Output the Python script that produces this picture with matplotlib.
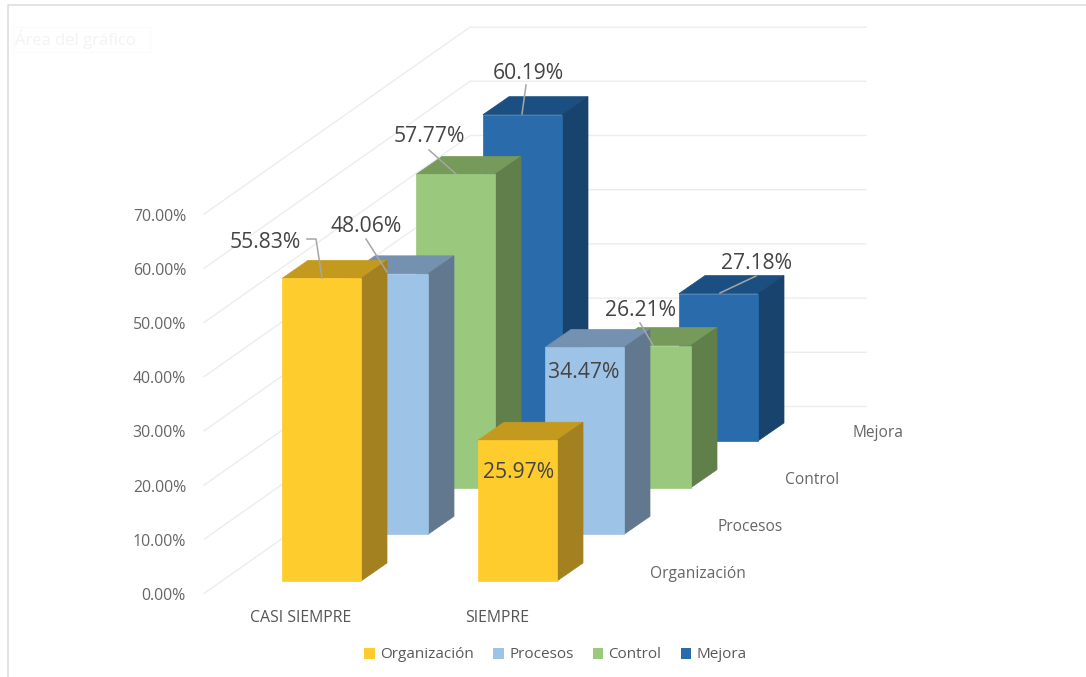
"""Oblique 3D-looking column chart, Organización / Procesos / Control / Mejora."""

import matplotlib
matplotlib.use("Agg")
import matplotlib.pyplot as plt
from matplotlib.patches import Patch, Polygon, Rectangle

plt.rcParams["font.family"] = ["Open Sans", "DejaVu Sans"]

# data
categories = ["CASI SIEMPRE", "SIEMPRE"]
series_names = ["Organización", "Procesos", "Control", "Mejora"]
organizacion = [55.83, 25.97]
procesos = [48.06, 34.47]
control = [57.77, 26.21]
mejora = [60.19, 27.18]
y_ticks = [0, 10, 20, 30, 40, 50, 60, 70]

series_values = [organizacion, procesos, control, mejora]
front_colors = ["#FFCC2E", "#9DC3E6", "#9AC97D", "#2A6CAB"]
top_colors = ["#C49A1E", "#7591B0", "#769A5A", "#1C4F81"]
side_colors = ["#A38120", "#62788F", "#607F4B", "#17436C"]

# oblique projection, all in figure pixels
FLOOR_X, FLOOR_Y = 204, 593.5   # front-left corner of the floor
DEPTH_DX, DEPTH_DY = 266, -187  # full depth of the box
BOX_RIGHT = 866
PX_PER_PCT = 5.42
BAR_W = 79
BAR_DX, BAR_DY = 26, -18      # depth of one bar
BAR_X0, BAR_Y0 = 282, 581     # first bar, front-left corner at base
CAT_STEP = 196
SERIES_DX, SERIES_DY = 67, -46.7

GRID = "#EDEDED"
TICK = "#666666"
LABEL = "#444444"
LEADER = "#A6A6A6"
TEXT_DY = 2.5  # Open Sans sits a little high with va="center"


def y_at(value):
    return FLOOR_Y - value * PX_PER_PCT


fig = plt.figure(figsize=(10.86, 6.77), dpi=100)
ax = fig.add_axes([0, 0, 1, 1])
ax.set_xlim(0, 1086)
ax.set_ylim(677, 0)
ax.axis("off")

# chart frame and the faint tooltip left over in the screenshot
ax.plot([8, 8, 1086], [677, 5, 5], color="#DEDEDE", lw=1.2)
ax.add_patch(Rectangle((14, 27), 136, 25, fc="white", ec="#FBFBFB", lw=1))
ax.text(15, 39, "Área del gráfico", fontsize=12, color="#F3F3F3", va="center")

# grid on side wall and back wall
for tick in y_ticks:
    y = y_at(tick)
    ax.plot([FLOOR_X, FLOOR_X + DEPTH_DX, BOX_RIGHT],
            [y, y + DEPTH_DY, y + DEPTH_DY], color=GRID, lw=1, zorder=1)
    ax.text(186, y + TEXT_DY, f"{tick:.2f}%", fontsize=11.4, color=TICK,
            ha="right", va="center")


def draw_bar(cat_idx, ser_idx, value, z):
    x0 = BAR_X0 + cat_idx * CAT_STEP + ser_idx * SERIES_DX
    base = BAR_Y0 + ser_idx * SERIES_DY
    top = base - value * PX_PER_PCT
    x1 = x0 + BAR_W
    # thin same-colour edge hides the antialiasing seam between faces
    ax.add_patch(Polygon([(x0, top), (x1, top), (x1 + BAR_DX, top + BAR_DY),
                          (x0 + BAR_DX, top + BAR_DY)],
                         fc=top_colors[ser_idx], ec=top_colors[ser_idx], lw=0.5, zorder=z))
    ax.add_patch(Polygon([(x1, base), (x1 + BAR_DX, base + BAR_DY),
                          (x1 + BAR_DX, top + BAR_DY), (x1, top)],
                         fc=side_colors[ser_idx], ec=side_colors[ser_idx], lw=0.5, zorder=z))
    ax.add_patch(Polygon([(x0, base), (x1, base), (x1, top), (x0, top)],
                         fc=front_colors[ser_idx], ec=front_colors[ser_idx], lw=0.5, zorder=z))


# back rows first so the front rows cover them
for ser_idx in range(len(series_names) - 1, -1, -1):
    for cat_idx in range(len(categories)):
        z = 2 + (len(series_names) - ser_idx) + cat_idx * 0.1
        draw_bar(cat_idx, ser_idx, series_values[ser_idx][cat_idx], z)

# value labels: text centre and leader line, by (series, category)
label_spots = {
    (0, 0): (265, 240, [(307, 316, 322), (239, 239, 278)]),
    (1, 0): (366, 224, [(366, 387), (239, 272)]),
    (2, 0): (429, 134, [(429, 456), (150, 174)]),
    (3, 0): (528, 71, [(526, 522), (85, 114)]),
    (0, 1): (519, 470, None),
    (1, 1): (584, 370, None),
    (2, 1): (640, 308, [(640, 653), (323, 345)]),
    (3, 1): (757, 261, [(756, 720), (276, 293)]),
}
for (ser_idx, cat_idx), (tx, ty, leader) in label_spots.items():
    if leader:
        ax.plot(leader[0], leader[1], color=LEADER, lw=1.1, zorder=20)
    ax.text(tx, ty + TEXT_DY, f"{series_values[ser_idx][cat_idx]:.2f}%", fontsize=15.2,
            color=LABEL, ha="center", va="center", zorder=21)

# category labels along the front, series labels along the depth
for cat_idx, name in enumerate(categories):
    ax.text([301, 497][cat_idx], 615 + TEXT_DY, name, fontsize=11.4, color="#555555",
            ha="center", va="center")
for ser_idx, name in enumerate(series_names):
    ax.text(650 + ser_idx * 67.5, 571 - ser_idx * 46.7 + TEXT_DY, name, fontsize=11.2,
            color="#666666", ha="left", va="center")

handles = [Patch(fc=c, ec="none", label=n) for c, n in zip(front_colors, series_names)]
ax.legend(handles=handles, ncol=4, loc="center", bbox_to_anchor=(555.5 / 1086, 1 - 655 / 677),
          frameon=False, fontsize=11, labelcolor="#595959", handlelength=0.7,
          handleheight=0.7, handletextpad=0.35, columnspacing=1.25)

fig.savefig("out.png", dpi=100)
